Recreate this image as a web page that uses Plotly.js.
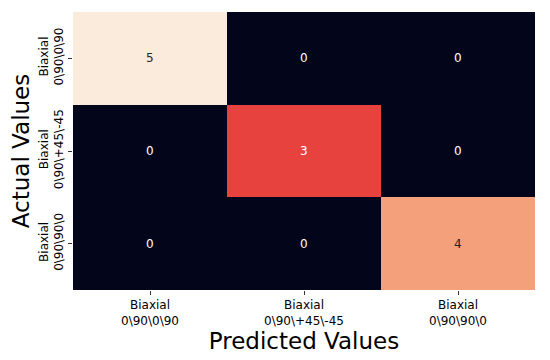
<!DOCTYPE html>
<html>
<head>
<meta charset="utf-8">
<script src="https://cdn.plot.ly/plotly-3.0.1.min.js"></script>
<style>html,body{margin:0;padding:0;background:#fff;}</style>
</head>
<body>
<div id="chart" style="width:550px;height:360px;"></div>
<script>
const predictedLabels = ["Biaxial<br>0\\90\\0\\90", "Biaxial<br>0\\90\\+45\\-45", "Biaxial<br>0\\90\\90\\0"];
const actualLabels = ["Biaxial<br>0\\90\\0\\90", "Biaxial<br>0\\90\\+45\\-45", "Biaxial<br>0\\90\\90\\0"];
const counts = [
  [5, 0, 0],
  [0, 3, 0],
  [0, 0, 4]
];

const rocket = [
  [0.0, '#03051A'], [0.1, '#221331'], [0.2, '#451C47'], [0.3, '#6B1F56'],
  [0.4, '#951C5B'], [0.5, '#BE1656'], [0.6, '#E8423F'], [0.7, '#F07352'],
  [0.8, '#F4A07A'], [0.9, '#F6C8AB'], [1.0, '#FAEBDD']
];

const zmax = 5;
const annotations = [];
counts.forEach((row, i) => {
  row.forEach((v, j) => {
    annotations.push({
      x: predictedLabels[j], y: actualLabels[i], xref: 'x', yref: 'y',
      text: String(v), showarrow: false,
      font: {family: 'DejaVu Sans', size: 12, color: v / zmax > 0.7 ? '#262626' : '#ffffff'}
    });
  });
});

Plotly.newPlot('chart', [{
  type: 'heatmap',
  x: predictedLabels,
  y: actualLabels,
  z: counts,
  zmin: 0, zmax: zmax,
  colorscale: rocket,
  showscale: false,
  xgap: 0, ygap: 0,
  hoverinfo: 'none'
}], {
  width: 550, height: 360,
  margin: {l: 73, r: 15, t: 12, b: 70},
  paper_bgcolor: '#fff', plot_bgcolor: '#fff',
  font: {family: 'DejaVu Sans', color: '#000'},
  annotations: annotations,
  xaxis: {
    type: 'category', showgrid: false, zeroline: false, showline: false,
    ticks: 'outside', ticklen: 4, tickwidth: 1, tickcolor: '#333',
    tickfont: {family: 'DejaVu Sans', size: 12, color: '#000'},
    title: {text: 'Predicted Values', font: {family: 'DejaVu Sans', size: 23, color: '#000'}, standoff: 4}
  },
  yaxis: {
    type: 'category', autorange: 'reversed', showgrid: false, zeroline: false, showline: false,
    ticks: 'outside', ticklen: 4, tickwidth: 1, tickcolor: '#333', tickangle: -90,
    tickfont: {family: 'DejaVu Sans', size: 12, color: '#000'},
    title: {text: 'Actual Values', font: {family: 'DejaVu Sans', size: 23, color: '#000'}, standoff: 0}
  }
}, {displayModeBar: false, staticPlot: true});
</script>
</body>
</html>
